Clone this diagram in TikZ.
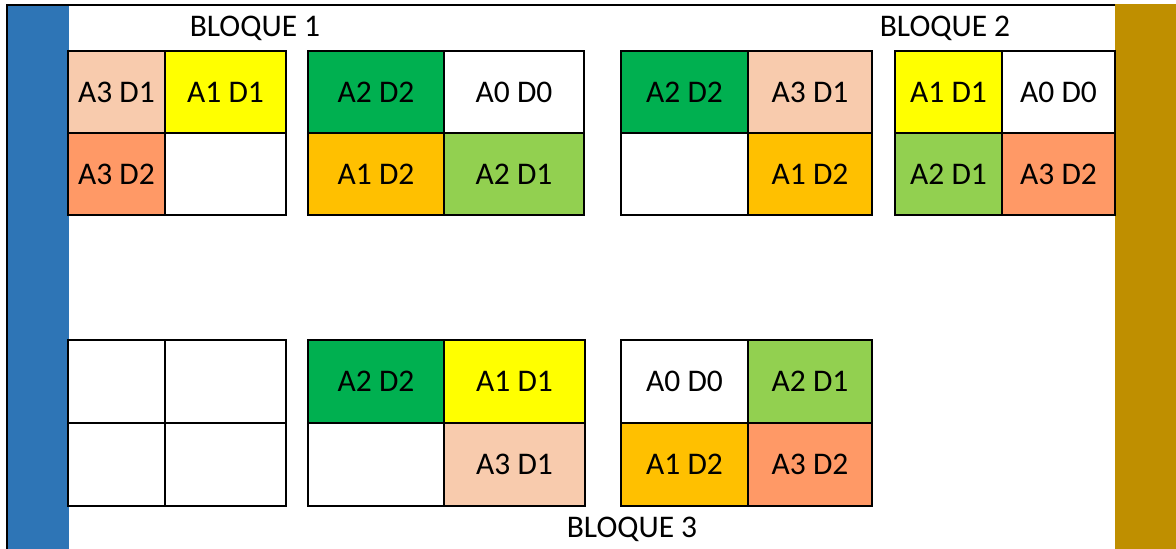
\documentclass[tikz,border=0pt]{standalone}
\usepackage{fontspec}
\setmainfont{Carlito}
\definecolor{stripblue}{HTML}{2E75B6}
\definecolor{stripgold}{HTML}{BF8F00}
\definecolor{cpeach}{HTML}{F8CBAD}
\definecolor{cyellow}{HTML}{FFFF00}
\definecolor{csalmon}{HTML}{FF9966}
\definecolor{cdkgreen}{HTML}{00B050}
\definecolor{cltgreen}{HTML}{92D050}
\definecolor{camber}{HTML}{FFC000}
\tikzset{
  cell/.style={draw=black, line width=2.2pt, anchor=north west, inner sep=0pt, outer sep=0pt,
    font=\fontsize{31.5}{35}\selectfont, text=black},
  blabel/.style={anchor=base, inner sep=0pt, font=\fontsize{31.5}{35}\selectfont}
}
\newcommand\mkcell[7]{\node[cell, fill=#6, minimum width=#4pt, minimum height=#5pt] (#1) at (#2,#3) {#7};}
\begin{document}
\begin{tikzpicture}[x=1pt, y=-1pt]
\useasboundingbox (0,0) rectangle (1176,549);
\fill[white] (0,0) rectangle (1176,549);
% side strips and frame
\fill[stripblue] (7,5) rectangle (69,549);
\fill[stripgold] (1115,4) rectangle (1176,549);
\draw[line width=2.2pt] (7,549) -- (7,5) -- (1115,5);
% labels
\node[blabel] (b1) at (255,36) {BLOQUE 1};
\node[blabel] (b2) at (945,36) {BLOQUE 2};
\node[blabel] (b3) at (632,537) {BLOQUE 3};
% grid 1
\mkcell{g1a}{68}{51}{97}{82}{cpeach}{A3 D1}
\mkcell{g1b}{165}{51}{121}{82}{cyellow}{A1 D1}
\mkcell{g1c}{68}{133}{97}{82}{csalmon}{A3 D2}
\mkcell{g1d}{165}{133}{121}{82}{white}{}
% grid 2
\mkcell{g2a}{308}{51}{136}{82}{cdkgreen}{A2 D2}
\mkcell{g2b}{444}{51}{140}{82}{white}{A0 D0}
\mkcell{g2c}{308}{133}{136}{82}{camber}{A1 D2}
\mkcell{g2d}{444}{133}{140}{82}{cltgreen}{A2 D1}
% grid 3
\mkcell{g3a}{621}{51}{127}{82}{cdkgreen}{A2 D2}
\mkcell{g3b}{748}{51}{124}{82}{cpeach}{A3 D1}
\mkcell{g3c}{621}{133}{127}{82}{white}{}
\mkcell{g3d}{748}{133}{124}{82}{camber}{A1 D2}
% grid 4
\mkcell{g4a}{895}{51}{107}{82}{cyellow}{A1 D1}
\mkcell{g4b}{1002}{51}{113}{82}{white}{A0 D0}
\mkcell{g4c}{895}{133}{107}{82}{cltgreen}{A2 D1}
\mkcell{g4d}{1002}{133}{113}{82}{csalmon}{A3 D2}
% grid 5
\mkcell{g5a}{68}{340}{97}{83}{white}{}
\mkcell{g5b}{165}{340}{121}{83}{white}{}
\mkcell{g5c}{68}{423}{97}{83}{white}{}
\mkcell{g5d}{165}{423}{121}{83}{white}{}
% grid 6
\mkcell{g6a}{308}{340}{136}{83}{cdkgreen}{A2 D2}
\mkcell{g6b}{444}{340}{141}{83}{cyellow}{A1 D1}
\mkcell{g6c}{308}{423}{136}{83}{white}{}
\mkcell{g6d}{444}{423}{141}{83}{cpeach}{A3 D1}
% grid 7
\mkcell{g7a}{621}{340}{127}{83}{white}{A0 D0}
\mkcell{g7b}{748}{340}{124}{83}{cltgreen}{A2 D1}
\mkcell{g7c}{621}{423}{127}{83}{camber}{A1 D2}
\mkcell{g7d}{748}{423}{124}{83}{csalmon}{A3 D2}
\end{tikzpicture}
\end{document}
